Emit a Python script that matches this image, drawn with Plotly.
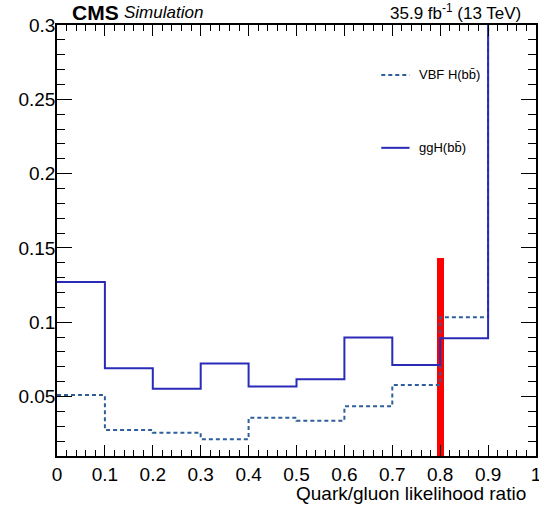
import plotly.graph_objects as go

# Bin edges of the quark/gluon likelihood ratio
bin_edges = [0.0, 0.1, 0.2, 0.3, 0.4, 0.5, 0.6, 0.7, 0.8, 0.9, 1.0]

# Normalised yields per bin (last bin extends above the plotted range)
vbf_values = [0.051, 0.0275, 0.0257, 0.0213, 0.0358, 0.0338, 0.0434, 0.0577, 0.1034, 0.40]
ggh_values = [0.127, 0.0691, 0.0552, 0.0723, 0.0568, 0.0617, 0.0897, 0.0713, 0.0893, 0.42]

# Red marker bar (working point)
marker_x = [0.8]
marker_y = [0.143]

x_tick_vals = [0, 0.1, 0.2, 0.3, 0.4, 0.5, 0.6, 0.7, 0.8, 0.9, 1.0]
x_tick_text = ["0", "0.1", "0.2", "0.3", "0.4", "0.5", "0.6", "0.7", "0.8", "0.9", "1"]
y_tick_vals = [0.05, 0.1, 0.15, 0.2, 0.25, 0.3]
y_tick_text = ["0.05", "0.1", "0.15", "0.2", "0.25", "0.3"]

FONT = "Liberation Sans, Arial, Helvetica, sans-serif"
VBF_COLOR = "#2f5f9a"
GGH_COLOR = "#2a2ab8"

fig = go.Figure()

fig.add_trace(go.Scatter(
    x=bin_edges, y=vbf_values + [vbf_values[-1]],
    mode="lines", line=dict(shape="hv", color=VBF_COLOR, width=2, dash="4px,3px"),
    name="VBF H(bb̄)", showlegend=False, hoverinfo="skip",
))
fig.add_trace(go.Scatter(
    x=bin_edges, y=ggh_values + [ggh_values[-1]],
    mode="lines", line=dict(shape="hv", color=GGH_COLOR, width=2),
    name="ggH(bb̄)", showlegend=False, hoverinfo="skip",
))
fig.add_trace(go.Bar(
    x=marker_x, y=marker_y, width=0.0145, base=0,
    marker=dict(color="#ff0000", line=dict(width=0)),
    showlegend=False, hoverinfo="skip",
))

axis_common = dict(
    showline=True, linecolor="black", linewidth=1.5, mirror="allticks",
    ticks="inside", tickcolor="black", tickwidth=1, automargin=False,
    showgrid=False, zeroline=False, ticklabeloverflow="allow",
    tickfont=dict(family=FONT, size=19, color="black"),
)

fig.update_xaxes(
    range=[0, 1], tickmode="array", tickvals=x_tick_vals, ticktext=x_tick_text,
    ticklen=11,
    minor=dict(ticks="inside", ticklen=6, dtick=0.02, tick0=0, tickcolor="black", showgrid=False),
    **axis_common,
)
fig.update_yaxes(
    range=[0.01, 0.3], tickmode="array", tickvals=y_tick_vals, ticktext=y_tick_text,
    ticklen=15, ticklabelstandoff=-4,
    minor=dict(ticks="inside", ticklen=8, dtick=0.01, tick0=0, tickcolor="black", showgrid=False),
    **axis_common,
)

# Legend drawn in ROOT style
fig.add_shape(type="line", xref="paper", yref="paper", x0=0.677, x1=0.736, y0=0.884, y1=0.884,
              line=dict(color=VBF_COLOR, width=2, dash="4px,3px"))
fig.add_shape(type="line", xref="paper", yref="paper", x0=0.677, x1=0.736, y0=0.715, y1=0.715,
              line=dict(color=GGH_COLOR, width=2))

annotations = [
    dict(text="VBF H(bb̄)", x=0.751, y=0.884, xanchor="left", yanchor="middle",
         font=dict(family=FONT, size=13, color="black")),
    dict(text="ggH(bb̄)", x=0.751, y=0.715, xanchor="left", yanchor="middle",
         font=dict(family=FONT, size=13, color="black")),
    dict(text="<b>CMS</b>", x=0.028, y=1.030, xanchor="left", yanchor="middle",
         font=dict(family=FONT, size=21, color="black")),
    dict(text="<i>Simulation</i>", x=0.136, y=1.030, xanchor="left", yanchor="middle",
         font=dict(family=FONT, size=17, color="black")),
    dict(text="35.9 fb<sup>-1</sup> (13 TeV)", x=0.972, y=1.030, xanchor="right", yanchor="middle",
         font=dict(family=FONT, size=17, color="black")),
    dict(text="Quark/gluon likelihood ratio", x=0.983, y=-0.087, xanchor="right", yanchor="middle",
         font=dict(family=FONT, size=19, color="black")),
]
for a in annotations:
    fig.add_annotation(xref="paper", yref="paper", showarrow=False, **a)

fig.update_layout(
    width=539, height=510,
    margin=dict(l=57, r=3, t=25, b=54),
    paper_bgcolor="white", plot_bgcolor="white",
    bargap=0, showlegend=False,
)

fig.write_html("out.html")
